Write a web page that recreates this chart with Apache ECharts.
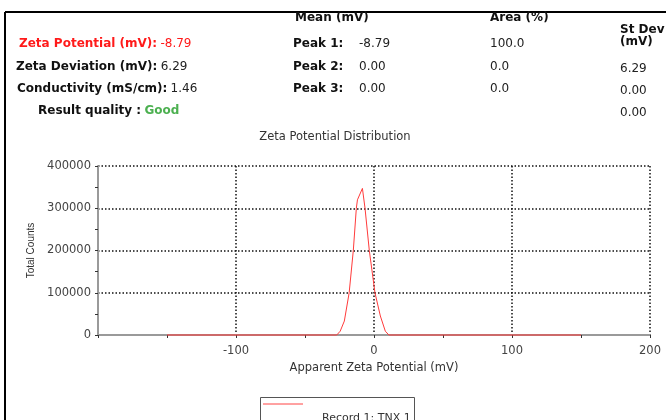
<!DOCTYPE html>
<html>
<head>
<meta charset="utf-8">
<script src="https://cdn.jsdelivr.net/npm/echarts@6/dist/echarts.min.js"></script>
<style>
html,body{margin:0;padding:0;background:#fff;}
#chart{width:666px;height:420px;}
</style>
</head>
<body>
<div id="chart"></div>
<script>
// ---- Data ----
const potentialMv = [-150, -27, -24.5, -21.5, -18, -15, -12.8, -12.0, -8.4, -6.5, -3.4, 0.7, 4.6, 8.2, 10.8, 150];
const totalCounts = [0, 0, 9000, 33000, 100000, 200000, 300000, 320000, 347000, 300000, 200000, 100000, 45000, 9000, 0, 0];
const xTickLabels = [-100, 0, 100, 200];
const yTickLabels = [0, 100000, 200000, 300000, 400000];

const summaryLabels = ['Zeta Potential (mV):', 'Zeta Deviation (mV):', 'Conductivity (mS/cm):'];
const summaryValues = ['-8.79', '6.29', '1.46'];
const qualityLabel = 'Result quality :';
const qualityValue = 'Good';
const peakNames = ['Peak 1:', 'Peak 2:', 'Peak 3:'];
const peakMeans = ['-8.79', '0.00', '0.00'];
const peakAreas = ['100.0', '0.0', '0.0'];
const peakStDevs = ['6.29', '0.00', '0.00'];
const columnHeaders = ['Mean (mV)', 'Area (%)', 'St Dev', '(mV)'];
const chartTitle = 'Zeta Potential Distribution';
const xAxisName = 'Apparent Zeta Potential (mV)';
const yAxisName = 'Total Counts';
const seriesName = 'Record 1: TNX 1';

// ---- Styles ----
const FF = '"DejaVu Sans", sans-serif';
const boldFont = 'bold 12px ' + FF;
const regFont = '12px ' + FF;

const chart = echarts.init(document.getElementById('chart'), null, {renderer: 'canvas'});

const graphics = [];
// border
graphics.push({type: 'line', shape: {x1: 5, y1: 12, x2: 666, y2: 12}, style: {stroke: '#000', lineWidth: 2}, silent: true});
graphics.push({type: 'line', shape: {x1: 5, y1: 12, x2: 5, y2: 420}, style: {stroke: '#000', lineWidth: 2}, silent: true});

function txt(x, y, text, font, fill, align) {
  graphics.push({type: 'text', silent: true, style: {x: x, y: y, text: text, font: font, fill: fill, verticalAlign: 'middle', align: align || 'left'}});
}
function richTxt(x, y, label, value, labelColor, valueColor, valueFont) {
  graphics.push({type: 'text', silent: true, style: {
    x: x, y: y, verticalAlign: 'middle', align: 'left',
    text: '{b|' + label + '} {v|' + value + '}',
    rich: {
      b: {font: boldFont, fill: labelColor},
      v: {font: valueFont || regFont, fill: valueColor}
    }
  }});
}

// column headers
txt(295, 18, columnHeaders[0], boldFont, '#111');
txt(490, 18, columnHeaders[1], boldFont, '#111');
txt(620, 30, columnHeaders[2], boldFont, '#111');
txt(620, 42, columnHeaders[3], boldFont, '#111');

const rowY = [44, 67, 89];
richTxt(19, rowY[0], summaryLabels[0], summaryValues[0], '#ff1a1a', '#ff1a1a');
richTxt(16, rowY[1], summaryLabels[1], summaryValues[1], '#111', '#222');
richTxt(17, rowY[2], summaryLabels[2], summaryValues[2], '#111', '#222');
richTxt(38, 111, qualityLabel, qualityValue, '#111', '#4cb050', boldFont);

for (let i = 0; i < 3; i++) {
  txt(293, rowY[i], peakNames[i], boldFont, '#111');
  txt(359, rowY[i], peakMeans[i], regFont, '#222');
  txt(490, rowY[i], peakAreas[i], regFont, '#222');
}
const stY = [69, 91, 113];
for (let i = 0; i < 3; i++) {
  txt(620, stY[i], peakStDevs[i], regFont, '#222');
}

// chart title
txt(335, 137, chartTitle, '11.5px ' + FF, '#333', 'center');

// legend box
graphics.push({type: 'rect', silent: true, shape: {x: 260.5, y: 397.5, width: 154, height: 30}, style: {fill: '#fff', stroke: '#555', lineWidth: 1}});
graphics.push({type: 'line', silent: true, shape: {x1: 263, y1: 404, x2: 303, y2: 404}, style: {stroke: '#ff4444', lineWidth: 1}});
txt(322, 418, seriesName, '11px ' + FF, '#333');

const option = {
  animation: false,
  backgroundColor: '#fff',
  grid: {left: 98, right: 16, top: 166, bottom: 85, containLabel: false},
  xAxis: {
    type: 'value', min: -200, max: 200, interval: 100,
    name: xAxisName, nameLocation: 'middle', nameGap: 27,
    nameTextStyle: {fontFamily: FF, fontSize: 11.5, color: '#333'},
    axisLine: {onZero: false, lineStyle: {color: '#9a9a9a', width: 2}},
    axisTick: {show: true, length: 3, lineStyle: {color: '#333', width: 1}},
    minorTick: {show: true, splitNumber: 2, length: 3, lineStyle: {color: '#333', width: 1}},
    axisLabel: {
      fontFamily: FF, fontSize: 11.5, color: '#444', margin: 10,
      formatter: v => (xTickLabels.indexOf(v) >= 0 ? String(v) : '')
    },
    splitLine: {show: true, showMinLine: false, showMaxLine: true, lineStyle: {type: [1.5, 2], color: '#111', width: 1.5}}
  },
  yAxis: {
    type: 'value', min: 0, max: 400000, interval: 100000,
    name: yAxisName, nameLocation: 'middle', nameGap: 53, nameRotate: 90,
    nameTextStyle: {fontFamily: '"Liberation Sans", Arial, sans-serif', fontSize: 10, color: '#333'},
    axisLine: {show: true, onZero: false, lineStyle: {color: '#9a9a9a', width: 2}},
    axisTick: {show: true, length: 3, lineStyle: {color: '#333', width: 1}},
    minorTick: {show: true, splitNumber: 2, length: 3, lineStyle: {color: '#333', width: 1}},
    axisLabel: {
      fontFamily: FF, fontSize: 11.5, color: '#444', margin: 7,
      formatter: v => (yTickLabels.indexOf(v) >= 0 ? String(v) : '')
    },
    splitLine: {show: true, showMinLine: false, showMaxLine: true, lineStyle: {type: [1.5, 2], color: '#111', width: 1.5}}
  },
  series: [{
    name: seriesName,
    type: 'line',
    data: potentialMv.map((x, i) => [x, totalCounts[i]]),
    showSymbol: false,
    clip: false,
    lineStyle: {color: '#ff3b3b', width: 1},
    z: 5
  }],
  graphic: graphics
};
chart.setOption(option);
</script>
</body>
</html>
